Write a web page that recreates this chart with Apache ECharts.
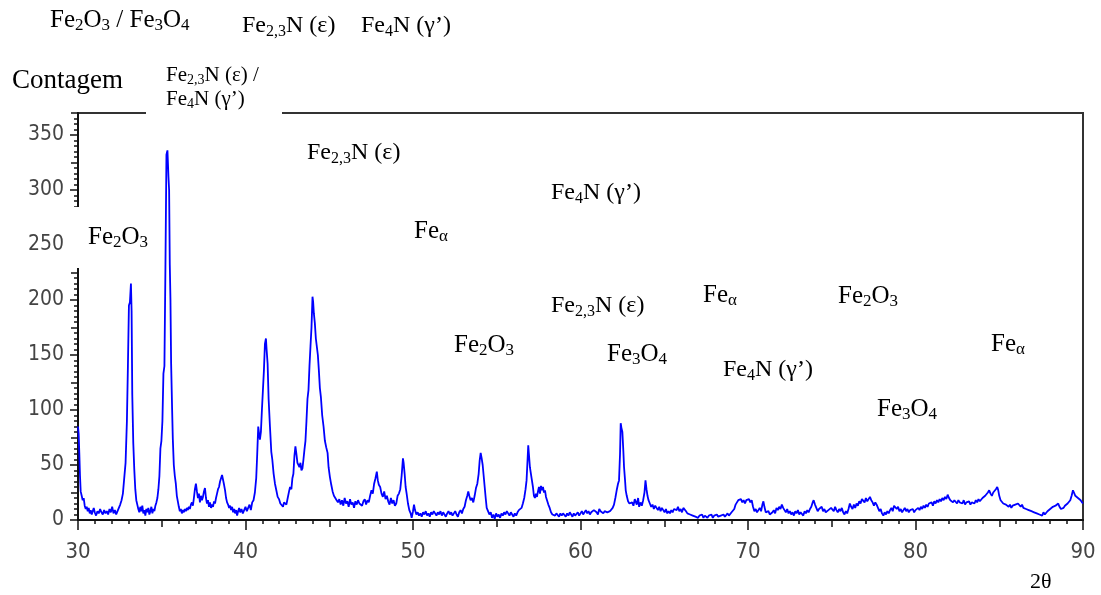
<!DOCTYPE html>
<html>
<head>
<meta charset="utf-8">
<script src="https://cdn.jsdelivr.net/npm/echarts@6/dist/echarts.min.js"></script>
<style>html,body{margin:0;padding:0;background:#fff;}#c{width:1101px;height:595px;}</style>
</head>
<body>
<div id="c"></div>
<script>
// ---- data: XRD pattern, [2theta, counts] ----
const seg30 = [
[30.00,85],[30.04,78],[30.08,60],[30.12,40],[30.16,26],[30.22,22],[30.28,18],[30.34,20],[30.40,13],[30.46,10],
[30.52,12],[30.58,8],[30.64,11],[30.70,6],[30.76,9],[30.82,5],[30.88,8],[30.94,11],[31.00,7],[31.08,4],
[31.16,8],[31.24,6],[31.32,10],[31.40,7],[31.48,5],[31.56,9],[31.64,6],[31.72,8],[31.80,5],[31.88,10],
[31.96,7],[32.04,12],[32.12,6],[32.20,9],[32.28,5],[32.36,8],[32.44,11],[32.52,14],[32.60,18],[32.68,24],
[32.76,38],[32.84,52],[32.92,90],[32.98,140],[33.04,195],[33.10,198],[33.16,215],[33.20,190],[33.24,114],[33.30,70],
[33.36,46],[33.42,28],[33.48,18],[33.54,14],[33.60,10],[33.66,7],[33.72,12],[33.78,8],[33.84,13],[33.90,6],
[33.96,9],[34.02,4],[34.08,10],[34.14,7],[34.20,11],[34.26,5],[34.32,8],[34.38,12],[34.44,6],[34.50,10],
[34.56,8],[34.62,13],[34.68,16],[34.74,20],[34.80,28],[34.86,40],[34.92,65],[34.98,72],[35.04,90],[35.10,133],
[35.16,140],[35.22,230],[35.28,332],[35.34,336],[35.40,312],[35.44,300],[35.48,232],[35.52,200],[35.56,142],[35.62,100],
[35.66,74],[35.72,50],[35.78,40],[35.84,33],[35.90,22],[35.96,17],[36.02,12],[36.08,8],[36.14,10],[36.20,6],
[36.26,9],[36.32,7],[36.38,10],[36.44,8],[36.50,11],[36.56,9],[36.62,12],[36.68,10],[36.74,14],[36.80,16],
[36.86,13],[36.92,20],[36.98,28],[37.04,33],[37.10,26],[37.16,20],[37.22,24],[37.28,16],[37.34,22],[37.40,18],
[37.46,21],[37.52,26],[37.58,29],[37.64,20],[37.70,15],[37.76,18],[37.82,12],[37.88,16],[37.94,11],[38.00,14],
[38.06,12],[38.12,17],[38.18,15],[38.24,20],[38.30,24],[38.36,28],[38.42,30],[38.48,35],[38.54,38],[38.60,41],
[38.66,40],[38.72,32],[38.78,27],[38.84,20],[38.90,16],[38.96,14],[39.02,11],[39.08,13],[39.14,9],[39.20,12],
[39.26,7],[39.32,10],[39.38,6],[39.44,9],[39.50,4],[39.56,8],[39.62,11],[39.68,7],[39.76,10],[39.84,6],[39.92,9]
];
const seg40 = [
[40.00,12],[40.08,8],[40.16,11],[40.24,14],[40.32,9],[40.40,16],[40.48,18],[40.56,25],[40.64,38],[40.70,60],
[40.76,85],[40.80,80],[40.86,73],[40.92,80],[40.98,100],[41.04,118],[41.10,136],[41.16,160],[41.22,165],[41.26,155],
[41.32,142],[41.38,110],[41.46,85],[41.54,62],[41.60,55],[41.68,42],[41.76,33],[41.84,27],[41.92,21],[42.00,19],
[42.08,15],[42.16,14],[42.24,12],[42.30,16],[42.36,17],[42.44,14],[42.52,20],[42.60,26],[42.66,30],[42.74,28],
[42.80,38],[42.86,42],[42.92,58],[42.98,67],[43.04,60],[43.10,52],[43.16,53],[43.22,48],[43.28,52],[43.34,45],
[43.40,47],[43.46,55],[43.52,64],[43.58,72],[43.64,90],[43.70,110],[43.76,118],[43.82,140],[43.88,158],[43.94,175],
[44.00,203],[44.04,198],[44.08,188],[44.14,179],[44.20,165],[44.26,164],[44.32,150],[44.38,136],[44.44,120],[44.50,112],
[44.58,95],[44.66,85],[44.74,72],[44.82,66],[44.90,61],[44.96,48],[45.04,39],[45.12,32],[45.20,26],[45.28,22],
[45.36,20],[45.44,18],[45.52,16],[45.60,19],[45.68,14],[45.76,18],[45.84,13],[45.92,20],[46.00,15],[46.08,17],
[46.16,12],[46.24,19],[46.32,14],[46.40,16],[46.48,11],[46.56,17],[46.64,14],[46.72,18],[46.80,15],[46.88,16],
[46.96,13],[47.04,17],[47.12,19],[47.20,14],[47.28,18],[47.36,16],[47.44,22],[47.52,27],[47.60,24],[47.68,33],
[47.76,38],[47.84,44],[47.90,36],[47.96,32],[48.04,30],[48.12,24],[48.20,21],[48.28,26],[48.36,19],[48.44,22],
[48.52,17],[48.60,14],[48.68,20],[48.76,15],[48.84,18],[48.92,13],[49.00,15],[49.08,22],[49.16,24],[49.24,28],
[49.32,40],[49.40,56],[49.44,52],[49.50,42],[49.56,30],[49.62,24],[49.70,15],[49.78,9],[49.86,6],[49.92,2]
];
const seg50 = [
[50.00,8],[50.06,14],[50.12,9],[50.20,5],[50.28,7],[50.36,4],[50.44,6],[50.52,3],[50.60,7],[50.68,5],
[50.76,8],[50.84,4],[50.92,6],[51.00,3],[51.08,7],[51.16,5],[51.24,8],[51.32,6],[51.40,4],[51.48,7],
[51.56,5],[51.64,8],[51.72,4],[51.80,7],[51.88,5],[51.96,3],[52.04,6],[52.12,8],[52.20,5],[52.28,7],
[52.36,4],[52.44,6],[52.52,8],[52.60,5],[52.68,3],[52.76,7],[52.84,9],[52.92,6],[53.00,10],[53.08,12],
[53.16,18],[53.24,22],[53.30,26],[53.36,22],[53.44,18],[53.52,20],[53.60,16],[53.68,22],[53.76,29],[53.84,33],
[53.92,42],[53.98,54],[54.04,61],[54.10,56],[54.16,50],[54.22,40],[54.28,30],[54.34,20],[54.40,11],[54.48,8],
[54.56,5],[54.64,7],[54.72,2],[54.80,5],[54.88,1],[54.96,6],[55.04,3],[55.12,5],[55.20,2],[55.28,6],
[55.36,4],[55.44,7],[55.52,5],[55.60,8],[55.68,6],[55.76,4],[55.84,7],[55.92,5],[56.00,3],[56.08,6],
[56.16,4],[56.24,7],[56.32,9],[56.40,8],[56.48,11],[56.56,15],[56.64,20],[56.72,28],[56.78,36],[56.84,55],
[56.88,68],[56.92,60],[56.98,48],[57.04,42],[57.10,36],[57.16,30],[57.22,22],[57.28,20],[57.34,24],[57.40,21],
[57.46,26],[57.52,30],[57.58,24],[57.64,31],[57.70,27],[57.76,30],[57.82,25],[57.88,27],[57.94,21],[58.00,18],
[58.08,14],[58.16,11],[58.24,7],[58.32,5],[58.40,6],[58.48,4],[58.56,6],[58.64,5],[58.72,3],[58.80,6],
[58.88,4],[58.96,6],[59.04,5],[59.12,3],[59.20,6],[59.28,4],[59.36,7],[59.44,5],[59.52,3],[59.60,6],
[59.68,4],[59.76,5],[59.84,7],[59.92,4]
];
const seg60 = [
[60.00,6],[60.08,8],[60.16,5],[60.24,7],[60.32,9],[60.40,6],[60.48,8],[60.56,5],[60.64,7],[60.72,6],
[60.80,9],[60.88,8],[60.96,7],[61.04,5],[61.12,10],[61.20,8],[61.28,7],[61.36,6],[61.44,8],[61.52,9],
[61.60,7],[61.68,6],[61.76,8],[61.84,7],[61.92,11],[62.00,14],[62.08,20],[62.16,27],[62.24,33],[62.30,36],
[62.36,60],[62.40,88],[62.44,84],[62.50,80],[62.56,62],[62.60,48],[62.66,36],[62.70,27],[62.76,22],[62.84,17],
[62.92,15],[63.00,14],[63.08,16],[63.16,13],[63.24,19],[63.30,18],[63.36,14],[63.44,20],[63.50,12],[63.58,16],
[63.66,13],[63.74,18],[63.82,25],[63.88,36],[63.94,28],[64.00,22],[64.06,18],[64.14,15],[64.22,12],[64.30,14],
[64.38,10],[64.46,13],[64.54,11],[64.62,9],[64.70,12],[64.78,8],[64.86,11],[64.94,9],[65.02,7],[65.10,10],
[65.18,6],[65.26,8],[65.34,6],[65.42,9],[65.50,7],[65.58,10],[65.66,11],[65.74,9],[65.82,12],[65.90,8],
[65.98,10],[66.06,7],[66.14,11],[66.22,12],[66.30,8],[66.38,6],[66.46,7],[66.54,5],[66.62,6],[66.70,4],
[66.78,5],[66.86,3],[66.94,4],[67.02,2],[67.10,4],[67.18,3],[67.26,5],[67.34,2],[67.42,4],[67.50,3],
[67.58,2],[67.66,4],[67.74,3],[67.82,5],[67.90,2],[67.98,4],[68.06,3],[68.14,5],[68.22,3],[68.30,2],
[68.38,4],[68.46,3],[68.54,5],[68.62,3],[68.70,4],[68.78,6],[68.86,4],[68.94,5],[69.02,7],[69.10,8],
[69.18,10],[69.26,14],[69.34,16],[69.42,18],[69.50,17],[69.58,19],[69.66,16],[69.74,18],[69.82,15],[69.90,18],
[69.98,17]
];
const seg70 = [
[70.06,19],[70.14,16],[70.22,18],[70.30,12],[70.38,8],[70.46,10],[70.54,7],[70.62,9],[70.70,11],[70.78,8],
[70.86,14],[70.92,17],[70.98,12],[71.06,7],[71.14,6],[71.22,8],[71.30,5],[71.38,4],[71.46,7],[71.54,9],
[71.62,6],[71.70,11],[71.78,9],[71.86,12],[71.94,10],[72.02,14],[72.10,11],[72.18,9],[72.26,7],[72.34,10],
[72.42,6],[72.50,8],[72.58,5],[72.66,7],[72.74,4],[72.82,8],[72.90,6],[72.98,9],[73.06,5],[73.14,7],
[73.22,6],[73.30,4],[73.38,8],[73.46,6],[73.54,9],[73.62,7],[73.70,10],[73.78,12],[73.86,16],[73.92,18],
[74.00,14],[74.08,11],[74.16,8],[74.24,10],[74.32,9],[74.40,12],[74.48,8],[74.56,10],[74.64,7],[74.72,6],
[74.80,9],[74.88,8],[74.96,11],[75.04,10],[75.12,8],[75.20,12],[75.28,9],[75.36,7],[75.44,10],[75.52,8],
[75.60,11],[75.68,7],[75.76,5],[75.84,8],[75.92,6],[76.00,10],[76.08,15],[76.16,12],[76.24,10],[76.32,14],
[76.40,11],[76.48,15],[76.56,13],[76.64,17],[76.72,15],[76.80,19],[76.88,18],[76.96,16],[77.04,20],[77.12,17],
[77.20,19],[77.28,21],[77.36,18],[77.44,16],[77.52,13],[77.60,16],[77.68,14],[77.76,11],[77.84,8],[77.92,10],
[78.00,6],[78.08,4],[78.16,7],[78.24,5],[78.32,8],[78.40,6],[78.48,9],[78.56,11],[78.64,8],[78.72,13],
[78.80,14],[78.88,10],[78.96,12],[79.04,8],[79.12,10],[79.20,7],[79.28,9],[79.36,11],[79.44,8],[79.52,10],
[79.60,7],[79.68,9],[79.76,8],[79.84,10],[79.92,7]
];
const seg80 = [
[80.00,9],[80.08,8],[80.16,11],[80.24,9],[80.32,12],[80.40,10],[80.48,13],[80.56,11],[80.64,14],[80.72,12],
[80.80,15],[80.88,14],[80.96,16],[81.04,13],[81.12,17],[81.20,15],[81.28,18],[81.36,16],[81.44,19],[81.52,17],
[81.60,20],[81.68,18],[81.76,21],[81.84,19],[81.92,23],[82.00,20],[82.08,18],[82.16,19],[82.24,16],[82.32,18],
[82.40,17],[82.48,15],[82.56,18],[82.64,16],[82.72,17],[82.80,15],[82.88,18],[82.96,14],[83.04,16],[83.12,15],
[83.20,17],[83.28,14],[83.36,16],[83.44,17],[83.52,15],[83.60,18],[83.68,16],[83.76,19],[83.84,17],[83.92,18],
[84.00,20],[84.08,19],[84.16,22],[84.24,23],[84.32,25],[84.40,27],[84.48,24],[84.56,22],[84.64,25],[84.72,24],
[84.80,28],[84.88,30],[84.94,27],[85.00,22],[85.08,18],[85.16,17],[85.24,15],[85.32,16],[85.40,14],[85.48,15],
[85.56,12],[85.64,14],[85.72,11],[85.80,13],[85.88,12],[85.96,14],[86.04,13],[86.12,15],[86.20,14],[86.28,12],
[86.36,14],[86.44,11],[86.52,12],[86.60,10],[86.68,11],[86.76,9],[86.84,10],[86.92,8],[87.00,9],[87.08,7],
[87.16,8],[87.24,6],[87.32,7],[87.40,5],[87.48,6],[87.56,4],[87.64,7],[87.72,5],[87.80,6],[87.88,8],
[87.96,7],[88.04,10],[88.12,9],[88.20,12],[88.28,11],[88.36,13],[88.44,14],[88.52,15],[88.60,12],[88.68,10],
[88.76,9],[88.84,11],[88.92,13],[89.00,12],[89.08,15],[89.16,14],[89.24,18],[89.32,22],[89.40,27],[89.46,25],
[89.54,22],[89.62,23],[89.70,20],[89.78,21],[89.86,18],[89.94,16],[90.00,15]
];

// axis ticks
const xTicks = [30, 40, 50, 60, 70, 80, 90];
const yTicks = [0, 50, 100, 150, 200, 250, 300, 350];
const yTop = 370;

// annotation texts (rich text markup: n = normal, s = subscript)
const phaseLabels = [
  '{n|Fe}{s|2}{n|O}{s|3}{n| / Fe}{s|3}{n|O}{s|4}',
  '{n|Fe}{s|2,3}{n|N (ε)}',
  '{n|Fe}{s|4}{n|N (γ’)}',
  '{n|Fe}{s|2}{n|O}{s|3}',
  '{n|Fe}{s|2,3}{n|N (ε)}',
  '{n|Fe}{s|α}',
  '{n|Fe}{s|4}{n|N (γ’)}',
  '{n|Fe}{s|2,3}{n|N (ε)}',
  '{n|Fe}{s|2}{n|O}{s|3}',
  '{n|Fe}{s|3}{n|O}{s|4}',
  '{n|Fe}{s|α}',
  '{n|Fe}{s|4}{n|N (γ’)}',
  '{n|Fe}{s|2}{n|O}{s|3}',
  '{n|Fe}{s|α}',
  '{n|Fe}{s|3}{n|O}{s|4}'
];
const stackedLabel = ['{n|Fe}{s|2,3}{n|N (ε) /}', '{n|Fe}{s|4}{n|N (γ’)}'];
const yName = 'Contagem';
const xName = '2θ';

// ---- layout ----
const labelPos = [
  [50, 20, 25], [242, 26, 24], [361, 26, 24],
  [88, 237, 25], [307, 153, 24], [414, 231, 25], [551, 193, 24],
  [551, 306, 24], [454, 345, 25], [607, 354, 25], [703, 295, 25],
  [723, 370, 24], [838, 296, 25], [991, 344, 25], [877, 409, 25]
];
const serif = '"Liberation Serif","Times New Roman",serif';
const sans = '"DejaVu Sans Condensed","Liberation Sans Narrow","Arial Narrow",sans-serif';

function rich(size) {
  const sub = Math.round(size * 0.68);
  return {
    n: { fontSize: size, fontFamily: serif, lineHeight: size + 4, fill: '#000' },
    s: { fontSize: sub, fontFamily: serif, lineHeight: sub, verticalAlign: 'bottom', fill: '#000' }
  };
}
function richText(txt, x, y, size) {
  return { type: 'text', x: x, y: y, z: 100, silent: true,
    style: { text: txt, rich: rich(size), align: 'left', verticalAlign: 'middle', fontFamily: serif, fontSize: size, fill: '#000' } };
}

const graphics = [];
graphics.push({ type: 'rect', z: 90, silent: true, shape: { x: 146, y: 52, width: 136, height: 65 }, style: { fill: '#fff' } });
graphics.push({ type: 'rect', z: 90, silent: true, shape: { x: 68, y: 207, width: 84, height: 61 }, style: { fill: '#fff' } });
phaseLabels.forEach((t, i) => graphics.push(richText(t, labelPos[i][0], labelPos[i][1], labelPos[i][2])));
graphics.push(richText(stackedLabel[0], 166, 75, 21));
graphics.push(richText(stackedLabel[1], 166, 99, 21));
graphics.push({ type: 'text', x: 12, y: 81, z: 100, silent: true, style: { text: yName, fontFamily: serif, fontSize: 27, fill: '#000', verticalAlign: 'middle' } });
graphics.push({ type: 'text', x: 1030, y: 582, z: 100, silent: true, style: { text: xName, fontFamily: serif, fontSize: 22, fill: '#000', verticalAlign: 'middle' } });

const tickStyle = { color: '#111', width: 1.5 };
function hiddenAxis(base, interval, len) {
  return Object.assign({}, base, {
    interval: interval,
    axisLine: { show: false },
    axisTick: { show: true, length: len, lineStyle: tickStyle },
    axisLabel: { show: false },
    splitLine: { show: false }
  });
}
const xBase = { type: 'value', min: xTicks[0], max: xTicks[xTicks.length - 1], position: 'bottom', gridIndex: 0 };
const yBase = { type: 'value', min: yTicks[0], max: yTop, position: 'left', gridIndex: 0 };

const chart = echarts.init(document.getElementById('c'), null, { renderer: 'canvas' });
chart.setOption({
  animation: false,
  backgroundColor: '#fff',
  grid: { left: 78, right: 18, top: 113, bottom: 75, show: true, borderColor: '#333', borderWidth: 2, backgroundColor: 'transparent' },
  xAxis: [
    Object.assign({}, xBase, {
      interval: 10,
      axisLine: { show: true, lineStyle: { color: '#111', width: 2 } },
      axisTick: { show: true, length: 10, lineStyle: tickStyle },
      axisLabel: { show: true, margin: 21, fontSize: 22, fontFamily: sans, color: '#444', showMaxLabel: true, showMinLabel: true },
      splitLine: { show: false }
    }),
    hiddenAxis(xBase, 5, 7),
    hiddenAxis(xBase, 1, 4)
  ],
  yAxis: [
    Object.assign({}, yBase, {
      interval: 50,
      axisLine: { show: true, lineStyle: { color: '#111', width: 2 } },
      axisTick: { show: true, length: 8, lineStyle: tickStyle },
      axisLabel: { show: true, margin: 14, fontSize: 21, fontFamily: sans, color: '#444', showMaxLabel: false, showMinLabel: true },
      splitLine: { show: false }
    }),
    hiddenAxis(yBase, 25, 7),
    hiddenAxis(yBase, 5, 4)
  ],
  series: [{
    type: 'line',
    xAxisIndex: 0, yAxisIndex: 0,
    data: seg30.concat(seg40, seg50, seg60, seg70, seg80),
    showSymbol: false, symbol: 'none',
    lineStyle: { color: '#0000ff', width: 1.8 },
    clip: true
  }],
  graphic: graphics
});
</script>
</body>
</html>
